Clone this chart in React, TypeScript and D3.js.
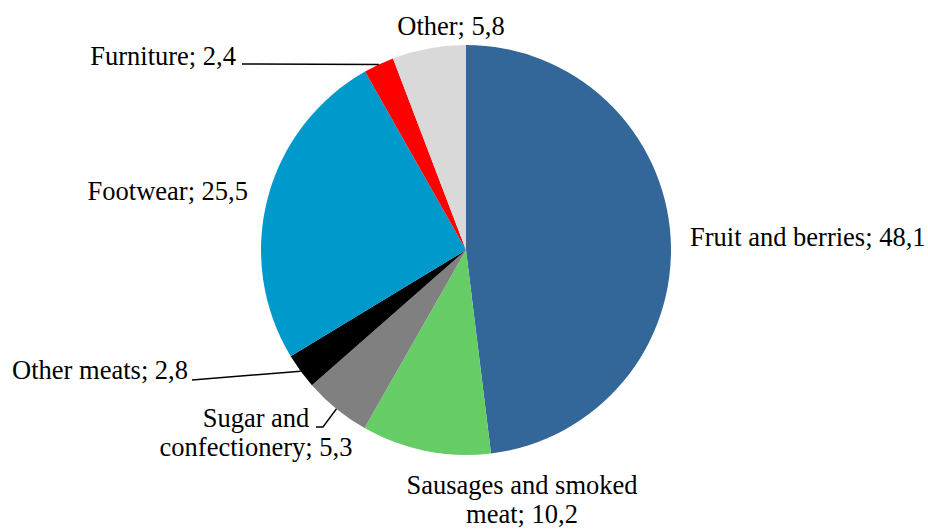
import React from 'react';
import * as d3 from 'd3';

const categories = [
    'Fruit and berries',
    'Sausages and smoked meat',
    'Sugar and confectionery',
    'Other meats',
    'Footwear',
    'Furniture',
    'Other',
];
const values = [48.1, 10.2, 5.3, 2.8, 25.5, 2.4, 5.8];
const colors = ['#336699', '#66cc66', '#808080', '#000000', '#0099cc', '#ff0000', '#d9d9d9'];

// label placement: x/y of first baseline, anchor, words on first line, leader start
const labelLayout = [
    { x: 690, y: 246, anchor: 'start', split: 0, leader: null },
    { x: 522, y: 494, anchor: 'middle', split: 3, leader: null },
    { x: 256, y: 427, anchor: 'middle', split: 2, leader: [[316, 427], [323, 427]] },
    { x: 188, y: 379, anchor: 'end', split: 0, leader: [[192, 380]] },
    { x: 248, y: 200, anchor: 'end', split: 0, leader: null },
    { x: 236, y: 65, anchor: 'end', split: 0, leader: [[242, 64]] },
    { x: 451, y: 35, anchor: 'middle', split: 0, leader: null },
];

const width = 928;
const height = 529;
const cx = 466;
const cy = 250;
const radius = 205;

const fmt = (v: number) => v.toFixed(1).replace('.', ',');

export default function App() {
    const pie = d3.pie<number>().sort(null).value((d) => d);
    const arcs = pie(values);
    const arc = d3.arc<d3.PieArcDatum<number>>().innerRadius(0).outerRadius(radius);
    const edge = d3.arc<d3.PieArcDatum<number>>().innerRadius(radius).outerRadius(radius);

    return (
        <svg width={width} height={height} style={{ position: 'absolute', left: 0, top: 0 }}>
            <g transform={`translate(${cx},${cy})`}>
                {arcs.map((a, i) => (
                    <path key={i} d={arc(a) || ''} fill={colors[i]} />
                ))}
            </g>
            {arcs.map((a, i) => {
                const lay = labelLayout[i];
                if (!lay.leader) return null;
                const [ex, ey] = edge.centroid(a);
                const pts = [...lay.leader, [cx + ex, cy + ey]];
                const line = d3.line()(pts as [number, number][]);
                return <path key={'l' + i} d={line || ''} fill="none" stroke="#000" strokeWidth={1.5} />;
            })}
            {categories.map((c, i) => {
                const lay = labelLayout[i];
                const text = c + '; ' + fmt(values[i]);
                const words = text.split(' ');
                const lines = lay.split
                    ? [words.slice(0, lay.split).join(' '), words.slice(lay.split).join(' ')]
                    : [text];
                return (
                    <text
                        key={'t' + i}
                        x={lay.x}
                        y={lay.y}
                        textAnchor={lay.anchor}
                        style={{ fontFamily: '"Times New Roman", "Liberation Serif", serif', fontSize: '26.5px' }}
                        fill="#000"
                    >
                        {lines.map((ln, j) => (
                            <tspan key={j} x={lay.x} dy={j === 0 ? 0 : 28.5}>
                                {ln}
                            </tspan>
                        ))}
                    </text>
                );
            })}
        </svg>
    );
}
